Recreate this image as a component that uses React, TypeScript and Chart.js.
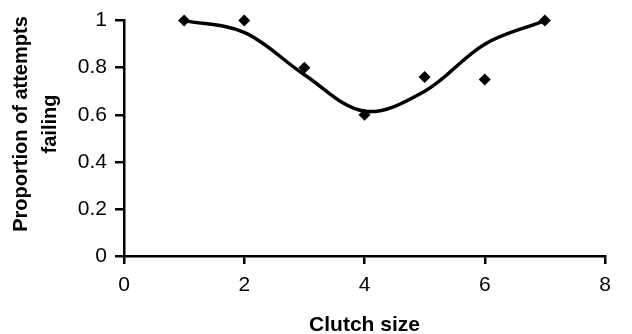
import React, { useEffect, useRef } from "react";
import { Chart, registerables } from "chart.js";

Chart.register(...registerables);

const clutchSizes = [1, 2, 3, 4, 5, 6, 7];
const observed = [1, 1, 0.8, 0.6, 0.76, 0.75, 1];
const fitted = [1, 0.95, 0.77, 0.615, 0.7, 0.9, 1];
const xTicks = [0, 2, 4, 6, 8];
const yTicks = [0, 0.2, 0.4, 0.6, 0.8, 1];
const xTitle = "Clutch size";
const yTitle = ["Proportion of attempts", "failing"];

const FONT = "'Liberation Sans', Arial, sans-serif";

const axisTitles = {
  id: "axisTitles",
  afterDraw(chart: any) {
    const ctx = chart.ctx as CanvasRenderingContext2D;
    const area = chart.chartArea;
    ctx.save();
    ctx.fillStyle = "#000";
    ctx.textAlign = "center";
    ctx.textBaseline = "alphabetic";
    ctx.font = `bold 21px ${FONT}`;
    ctx.fillText(xTitle, (area.left + area.right) / 2, 331);
    ctx.font = `bold 20px ${FONT}`;
    yTitle.forEach((line, i) => {
      ctx.save();
      ctx.translate(27 + i * 28.5, 124);
      ctx.rotate(-Math.PI / 2);
      ctx.fillText(line, 0, 0);
      ctx.restore();
    });
    ctx.restore();
  },
};

export default function App() {
  const ref = useRef<HTMLCanvasElement | null>(null);
  useEffect(() => {
    if (!ref.current) return;
    const chart = new Chart(ref.current, {
      type: "scatter",
      data: {
        datasets: [
          {
            label: "Fitted",
            type: "line",
            data: clutchSizes.map((x, i) => ({ x, y: fitted[i] })),
            borderColor: "#000",
            borderWidth: 3.5,
            pointRadius: 0,
            tension: 0.35,
            fill: false,
            clip: false,
          },
          {
            label: "Observed",
            data: clutchSizes.map((x, i) => ({ x, y: observed[i] })),
            backgroundColor: "#000",
            borderColor: "#000",
            pointStyle: "rectRot",
            pointRadius: 6,
            borderWidth: 0,
            clip: false,
          },
        ],
      },
      options: {
        animation: false,
        responsive: true,
        maintainAspectRatio: false,
        layout: { padding: { top: 20, right: 27, left: 0, bottom: 0 } },
        plugins: { legend: { display: false }, tooltip: { enabled: false } },
        scales: {
          x: {
            type: "linear",
            min: 0,
            max: 8,
            afterBuildTicks: (s: any) => {
              s.ticks = xTicks.map((v) => ({ value: v }));
            },
            afterFit: (s: any) => {
              s.height = 78;
            },
            ticks: {
              color: "#000",
              font: { family: FONT, size: 21 },
              padding: 9,
              maxRotation: 0,
            },
            grid: {
              drawOnChartArea: false,
              drawTicks: true,
              tickLength: 8,
              color: "#000",
              lineWidth: 2.5,
            },
            border: { color: "#000", width: 2.5 },
          },
          y: {
            type: "linear",
            min: 0,
            max: 1,
            afterBuildTicks: (s: any) => {
              s.ticks = yTicks.map((v) => ({ value: v }));
            },
            afterFit: (s: any) => {
              s.width = 124;
            },
            ticks: {
              color: "#000",
              font: { family: FONT, size: 21 },
              padding: 8,
              callback: (v: any) => String(v),
            },
            grid: {
              drawOnChartArea: false,
              drawTicks: true,
              tickLength: 9,
              color: "#000",
              lineWidth: 2.5,
            },
            border: { color: "#000", width: 2.5 },
          },
        },
      },
      plugins: [axisTitles],
    });
    return () => chart.destroy();
  }, []);
  return (
    <div style={{ position: "fixed", left: 0, top: 0, width: 632, height: 334, background: "#fff" }}>
      <canvas ref={ref} />
    </div>
  );
}
